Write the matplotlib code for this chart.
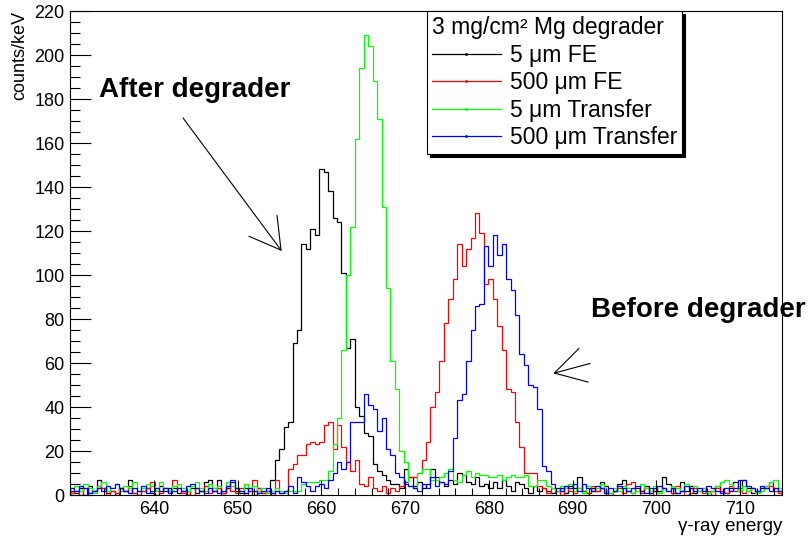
import numpy as np
import matplotlib.pyplot as plt
from matplotlib.lines import Line2D
from matplotlib.ticker import MultipleLocator

plt.rcParams['font.family'] = ['Liberation Sans', 'DejaVu Sans']

# histogram binning (gamma-ray energy, keV)
e_lo, e_hi, n_bins = 630, 715, 160
edges = np.linspace(e_lo, e_hi, n_bins + 1)

# counts/keV per bin
fe_5um = ([2, 1, 3, 0, 4, 2, 7, 3, 1, 2, 0, 3, 2, 7, 1, 0, 2, 3, 1, 0,
           4, 2, 3, 3, 1, 2, 0, 3, 1, 2, 6, 7, 2, 7, 1, 3, 6, 2, 1, 3,
           2, 0, 3, 1, 2, 7]
          + [16, 21, 31, 33, 69, 75, 114, 112, 121, 118, 148, 147, 138, 126, 124,
             101, 67, 71, 40, 36, 28, 27, 14, 11, 9, 7, 5]
          + [5, 3, 12, 8, 4, 6, 3, 5, 12, 8, 6, 4, 7, 5, 10, 9, 6, 5, 8, 4,
             5, 3, 6, 3, 7, 4, 2, 6, 5, 3, 1, 4, 2, 3, 2, 1]
          + [2, 3, 1, 4, 3, 8, 2, 1, 3, 2, 6, 4, 1, 2, 5, 7, 2, 1, 3, 2,
             4, 1, 3, 2, 8, 5, 3, 1, 6, 2, 4, 1, 2, 3, 1, 2, 4, 2, 1, 3,
             6, 2, 7, 3, 1, 2, 3, 4, 6, 3, 2])

fe_500um = ([1, 2, 0, 3, 1, 2, 4, 3, 0, 2, 1, 3, 2, 4, 1, 0, 2, 3, 6, 2,
             1, 3, 2, 7, 3, 1, 2, 0, 3, 2, 4, 1, 2, 3, 1, 4, 2, 1, 3, 0,
             2, 7, 3, 1, 2, 0, 7, 1, 2]
            + [12, 14, 18, 18, 23, 24, 23, 24, 32, 33, 21, 32, 22, 15, 11, 16, 5, 4,
               8, 3, 2, 4, 1, 3, 2, 4, 6, 8]
            + [8, 10, 16, 24, 40, 47, 61, 78, 89, 98, 114, 104, 112, 117, 128, 119,
               96, 98, 89, 77, 66, 48, 47, 33, 22, 10, 10, 10, 4, 3]
            + [1, 3, 2, 0, 4, 2, 1, 3, 2, 1, 4, 2, 3, 1, 0, 2, 3, 1, 5, 6,
               2, 1, 3, 0, 2, 1, 3, 2, 1, 4, 2, 0, 1, 3, 2, 1, 2, 0, 3, 2,
               1, 4, 2, 3, 1, 2, 3, 1, 2, 3, 4, 2, 1])

tr_5um = ([3, 4, 2, 5, 3, 1, 4, 6, 2, 3, 5, 2, 4, 3, 6, 2, 3, 5, 4, 2,
           6, 3, 2, 4, 5, 3, 2, 4, 6, 3, 2, 5, 3, 4, 2, 6, 4, 3, 2, 5,
           3, 4, 2, 3, 1, 2, 3, 2, 1, 2, 2, 2, 5, 6, 6, 6, 7, 7]
          + [11, 23, 35, 66, 100, 122, 162, 194, 209, 204, 188, 171, 131, 94, 61,
             48, 20]
          + [15, 4, 3, 10, 12, 12, 7, 7, 8, 10, 12, 7, 6, 9, 11, 8, 10, 9, 9, 8,
             8, 9, 7, 8, 9, 8, 8, 9, 4, 4, 7, 7, 4, 3]
          + [2, 4, 3, 5, 2, 3, 1, 4, 2, 3, 5, 2, 1, 3, 2, 4, 3, 1, 2, 5,
             3, 2, 4, 1, 3, 2, 4, 3, 2, 5, 3, 4, 2, 3, 1, 2, 4, 6, 7, 5,
             3, 2, 4, 2, 3, 1, 2, 4, 6, 7, 3])

tr_500um = ([3, 2, 4, 3, 1, 2, 3, 2, 4, 3, 5, 3, 2, 1, 3, 2, 4, 1, 2, 3,
             2, 3, 1, 2, 3, 2, 4, 5, 3, 2, 1, 3, 2, 1, 2, 4, 7, 3, 2, 1,
             3, 2, 1, 2, 3, 1, 2, 1, 2, 4, 1, 8, 6, 4, 2, 4, 5, 3]
            + [7, 10, 15, 12, 15, 33, 33, 33, 46, 41, 39, 29, 35, 21, 18, 10, 8, 5]
            + [4, 3, 2, 5, 3, 8, 4, 6, 5, 11, 26, 43, 46, 61, 75, 86, 87, 113,
               104, 118, 109, 114, 98, 93, 82, 64, 59, 50, 49, 39, 13, 11, 5]
            + [3, 2, 4, 3, 5, 2, 5, 3, 2, 4, 3, 1, 3, 2, 4, 3, 2, 3, 4, 2,
               1, 3, 2, 4, 3, 2, 3, 1, 2, 4, 3, 2, 3, 2, 4, 3, 2, 1, 3, 2,
               3, 7, 7, 4, 3, 2, 4, 3, 2, 3, 2])

series = [fe_5um, fe_500um, tr_5um, tr_500um]
labels = ['5 \u03bcm FE', '500 \u03bcm FE', '5 \u03bcm Transfer', '500 \u03bcm Transfer']
colors = ['#000000', '#ff0000', '#00ff00', '#0000ff']

fig = plt.figure(figsize=(8.1, 5.37), dpi=100)
ax = fig.add_axes([70 / 810, 42 / 537, 712 / 810, 484 / 537])

for vals, c in zip(series, colors):
    ax.stairs(vals, edges, color=c, lw=0.9)

ax.set_xlim(e_lo, e_hi)
ax.set_ylim(0, 220)
ax.xaxis.set_major_locator(MultipleLocator(10))
ax.xaxis.set_minor_locator(MultipleLocator(2))
ax.yaxis.set_major_locator(MultipleLocator(20))
ax.yaxis.set_minor_locator(MultipleLocator(5))
ax.set_xticks(np.arange(640, 711, 10))
ax.tick_params(axis='both', which='both', direction='in', width=0.8, labelsize=13)
ax.tick_params(axis='x', which='major', length=10.5, pad=4)
ax.tick_params(axis='x', which='minor', length=5)
ax.tick_params(axis='y', which='major', length=15, pad=4)
ax.tick_params(axis='y', which='minor', length=7.5)
for s in ax.spines.values():
    s.set_linewidth(0.8)

ax.set_xlabel('\u03b3-ray energy', fontsize=13.5, loc='right', labelpad=0)
ax.set_ylabel('counts/keV', fontsize=13, loc='top')
ax.yaxis.set_label_coords(-0.059, 1.0)

handles = [Line2D([], [], color=c, lw=0.9, marker='.', markersize=2) for c in colors]
leg = ax.legend(handles, labels, title='3 mg/cm\u00b2 Mg degrader',
                loc='upper left', bbox_to_anchor=((427 - 70) / 712, 1.0),
                alignment='left', fontsize=16.5, title_fontsize=16.5,
                fancybox=False, edgecolor='black', framealpha=1,
                borderpad=0.22, handlelength=3.0, handletextpad=0.4,
                labelspacing=0.2, borderaxespad=0,
                shadow={'color': 'black', 'alpha': 1})
leg.get_frame().set_linewidth(0.8)

ax.text(644.9, 184, 'After degrader', ha='center', va='center',
        fontsize=20, fontweight='bold')
ax.text(705.0, 84, 'Before degrader', ha='center', va='center',
        fontsize=20, fontweight='bold')

head = '->,head_length=2.18,head_width=1.26'
ax.annotate('', xy=(655.27, 110.9), xytext=(643.49, 171.4),
            arrowprops=dict(arrowstyle=head, lw=0.8, color='black',
                            shrinkA=0, shrinkB=0, mutation_scale=10))
ax.annotate('', xy=(687.7, 55.3), xytext=(692.1, 59.8),
            arrowprops=dict(arrowstyle=head, lw=0.8, color='black',
                            shrinkA=0, shrinkB=0, mutation_scale=10))

fig.savefig('out.png', dpi=100)
